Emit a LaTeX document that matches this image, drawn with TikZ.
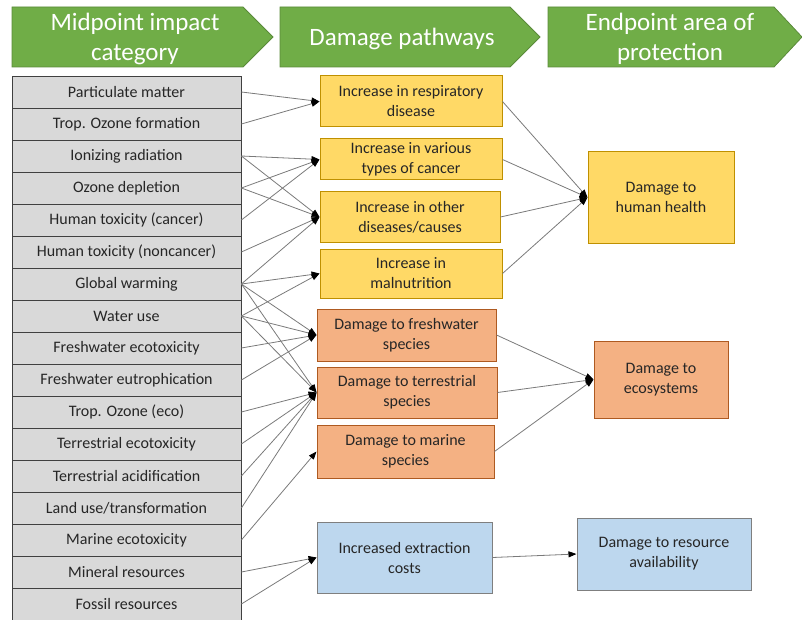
\documentclass[tikz,border=0pt]{standalone}
\usepackage{fontspec}
\setmainfont{Carlito}
\usetikzlibrary{arrows.meta, positioning}
\definecolor{hdrgreen}{HTML}{70AD47}
\definecolor{hdrline}{HTML}{5A8A3A}
\definecolor{catfill}{HTML}{D9D9D9}
\definecolor{catline}{HTML}{404040}
\definecolor{yelfill}{HTML}{FFD966}
\definecolor{yelline}{HTML}{BF9000}
\definecolor{orafill}{HTML}{F4B183}
\definecolor{oraline}{HTML}{AE5A21}
\definecolor{blufill}{HTML}{BDD7EE}
\definecolor{bluline}{HTML}{7F7F7F}
\definecolor{lnk}{HTML}{7A7A7A}
\tikzstyle{head} = [fill=hdrgreen, draw=hdrline, line width=0.8pt]
\tikzstyle{headtxt} = [text=white, align=center, font=\fontsize{25}{30}\selectfont]
\tikzstyle{cat} = [rectangle, minimum width=229pt, minimum height=32pt, text centered, draw=catline, fill=catfill, line width=0.8pt, font=\fontsize{16}{20}\selectfont, text=black!85]
\tikzstyle{box} = [rectangle, align=center, inner sep=0pt, line width=1pt, font=\fontsize{16}{20}\selectfont, text=black!85]
\tikzstyle{yel} = [box, draw=yelline, fill=yelfill]
\tikzstyle{ora} = [box, draw=oraline, fill=orafill]
\tikzstyle{blu} = [box, draw=bluline, fill=blufill]
\tikzstyle{arrow} = [draw=lnk, line width=0.8pt, -{Triangle[black, length=8pt, width=6pt]}]

\begin{document}
\begin{tikzpicture}[x=1pt, y=-1pt, node distance=32pt]
      \useasboundingbox (0,0) rectangle (802,620);

      % headers
      \path [head] (12,7) -- (243,7) -- (273,37) -- (243,67) -- (12,67) -- cycle;
      \path [head] (280,7) -- (510,7) -- (540,37) -- (510,67) -- (280,67) -- cycle;
      \path [head] (548,7) -- (774,7) -- (802,37) -- (774,67) -- (548,67) -- cycle;
      \node (mid_head) [headtxt] at (135,38.5) {Midpoint impact\\category};
      \node (path_head) [headtxt] at (402,38.5) {Damage pathways};
      \node (end_head) [headtxt] at (670,38.5) {Endpoint area of\\protection};

      % midpoint categories
      \node (part_mat) [cat] at (126.5,92) {Particulate matter};
      \node (trop_oz) [cat, below of=part_mat] {Trop. Ozone formation};
      \node (ion_rad) [cat, below of=trop_oz] {Ionizing radiation};
      \node (oz_dep) [cat, below of=ion_rad] {Ozone depletion};
      \node (tox_c) [cat, below of=oz_dep] {Human toxicity (cancer)};
      \node (tox_nc) [cat, below of=tox_c] {Human toxicity (noncancer)};
      \node (glob_warm) [cat, below of=tox_nc] {Global warming};
      \node (water) [cat, below of=glob_warm] {Water use};
      \node (fw_ecotox) [cat, below of=water] {Freshwater ecotoxicity};
      \node (fw_eutro) [cat, below of=fw_ecotox] {Freshwater eutrophication};
      \node (trop_eco) [cat, below of=fw_eutro] {Trop. Ozone (eco)};
      \node (terr_ecotox) [cat, below of=trop_eco] {Terrestrial ecotoxicity};
      \node (terr_acid) [cat, below of=terr_ecotox] {Terrestrial acidification};
      \node (land_use) [cat, below of=terr_acid] {Land use/transformation};
      \node (mar_ecotox) [cat, below of=land_use] {Marine ecotoxicity};
      \node (mineral) [cat, below of=mar_ecotox] {Mineral resources};
      \node (fossil) [cat, below of=mineral] {Fossil resources};

      % damage pathways
      \node (resp) [yel, minimum width=182pt, minimum height=51pt] at (411,101.5) {Increase in respiratory\\disease};
      \node (cancer) [yel, minimum width=182pt, minimum height=41pt] at (411,159.5) {Increase in various\\types of cancer};
      \node (other_dis) [yel, minimum width=180pt, minimum height=50pt] at (410,217) {Increase in other\\diseases/causes};
      \node (malnut) [yel, minimum width=182pt, minimum height=49pt] at (411,273.5) {Increase in\\malnutrition};
      \node (fw_sp) [ora, minimum width=179pt, minimum height=52pt] at (406.5,335) {Damage to freshwater\\species};
      \node (terr_sp) [ora, minimum width=180pt, minimum height=51pt] at (407,392.5) {Damage to terrestrial\\species};
      \node (mar_sp) [ora, minimum width=177pt, minimum height=53pt] at (405.5,451.5) {Damage to marine\\species};
      \node (extract) [blu, minimum width=175pt, minimum height=71pt] at (404.5,557.5) {Increased extraction\\costs};

      % endpoints
      \node (health) [yel, minimum width=146pt, minimum height=91pt] at (661,197.5) {Damage to\\human health};
      \node (eco) [ora, minimum width=134pt, minimum height=77pt] at (661,379.5) {Damage to\\ecosystems};
      \node (res_av) [blu, minimum width=174pt, minimum height=72pt] at (664,554) {Damage to resource\\availability};

      \draw [arrow] (part_mat.east) -- (resp.west);
      \draw [arrow] (trop_oz.east) -- (resp.west);
      \draw [arrow] (ion_rad.east) -- (cancer.west);
      \draw [arrow] (ion_rad.east) -- (other_dis.west);
      \draw [arrow] (oz_dep.east) -- (cancer.west);
      \draw [arrow] (oz_dep.east) -- (other_dis.west);
      \draw [arrow] (tox_c.east) -- (cancer.west);
      \draw [arrow] (tox_nc.east) -- (other_dis.west);
      \draw [arrow] (glob_warm.east) -- (other_dis.west);
      \draw [arrow] (glob_warm.east) -- (malnut.west);
      \draw [arrow] (glob_warm.east) -- (fw_sp.west);
      \draw [arrow] (glob_warm.east) -- (terr_sp.west);
      \draw [arrow] (water.east) -- (malnut.west);
      \draw [arrow] (water.east) -- (fw_sp.west);
      \draw [arrow] (water.east) -- (terr_sp.west);
      \draw [arrow] (fw_ecotox.east) -- (fw_sp.west);
      \draw [arrow] (fw_eutro.east) -- (fw_sp.west);
      \draw [arrow] (trop_eco.east) -- (terr_sp.west);
      \draw [arrow] (terr_ecotox.east) -- (terr_sp.west);
      \draw [arrow] (terr_acid.east) -- (terr_sp.west);
      \draw [arrow] (land_use.east) -- (terr_sp.west);
      \draw [arrow] (mar_ecotox.east) -- (mar_sp.west);
      \draw [arrow] (mineral.east) -- (extract.west);
      \draw [arrow] (fossil.east) -- (extract.west);

      \draw [arrow] (resp.east) -- (health.west);
      \draw [arrow] (cancer.east) -- (health.west);
      \draw [arrow] (other_dis.east) -- (health.west);
      \draw [arrow] (malnut.east) -- (health.west);
      \draw [arrow] (fw_sp.east) -- (eco.west);
      \draw [arrow] (terr_sp.east) -- (eco.west);
      \draw [arrow] (mar_sp.east) -- (eco.west);
      \draw [arrow] (extract.east) -- (res_av.west);
    \end{tikzpicture}
\end{document}
